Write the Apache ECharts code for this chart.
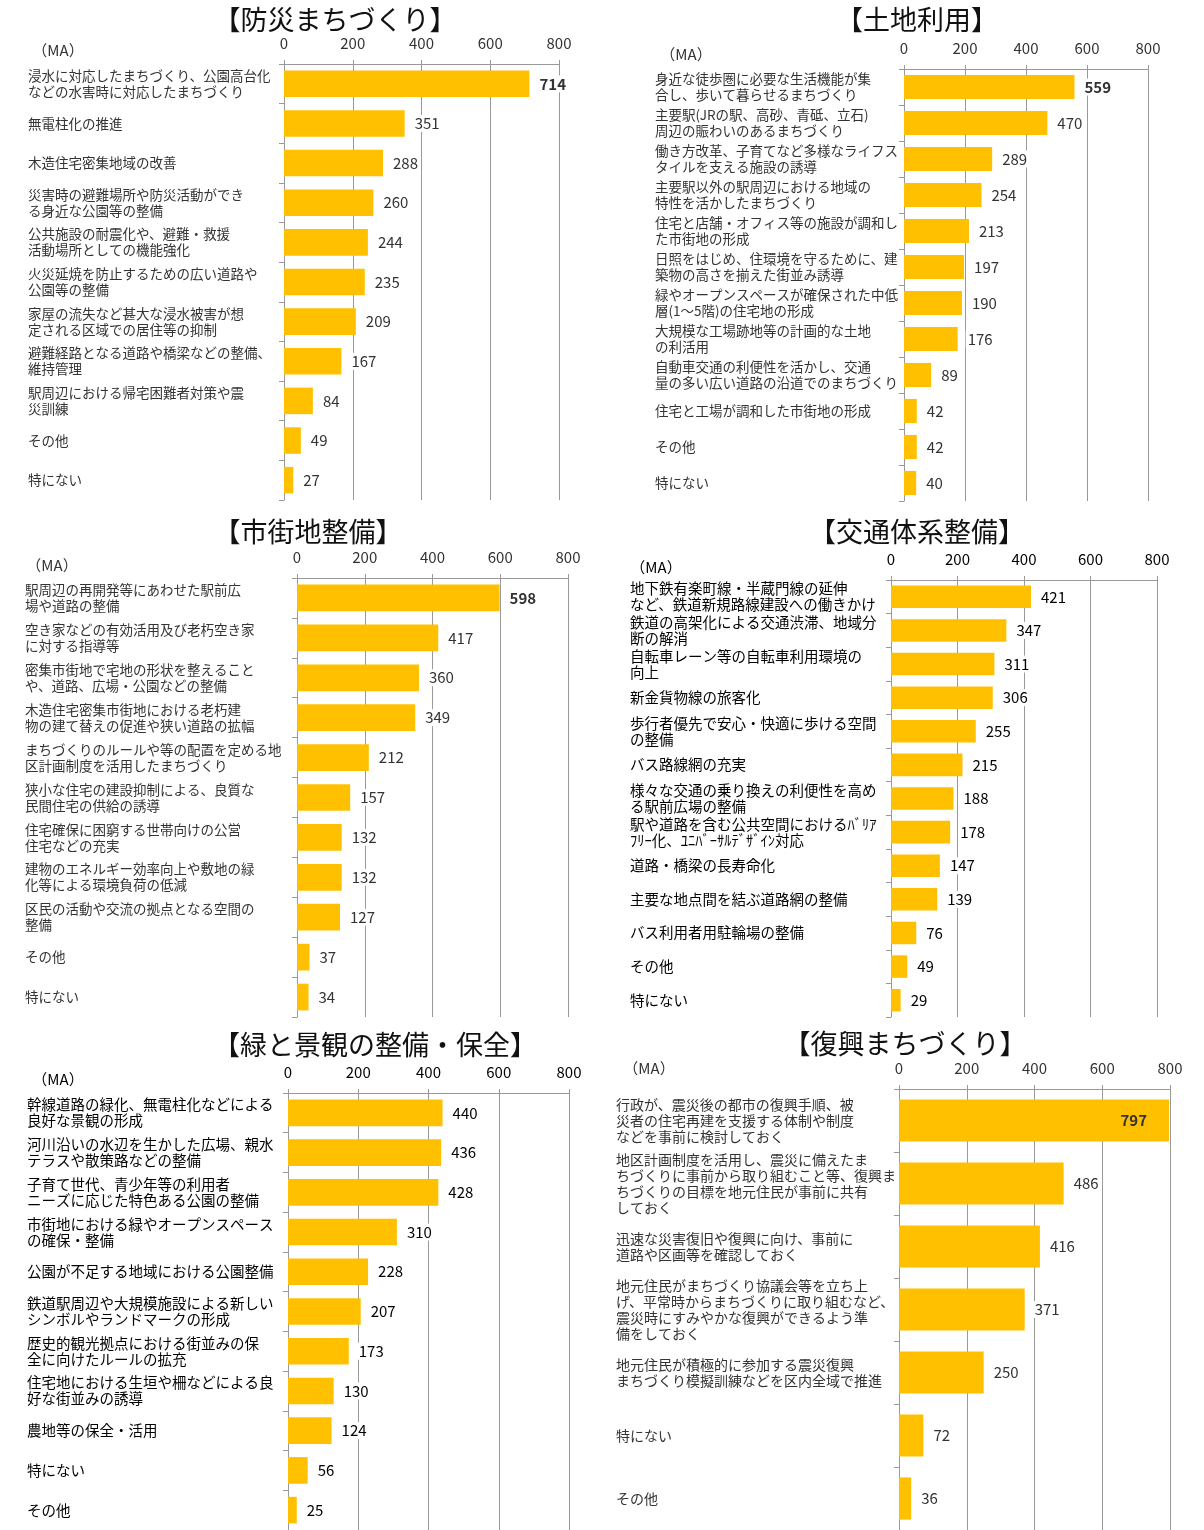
<!DOCTYPE html>
<html>
<head>
<meta charset="utf-8">
<script src="https://cdn.jsdelivr.net/npm/echarts@6/dist/echarts.min.js"></script>
<style>
  html, body { margin: 0; padding: 0; background: #fff; }
  #chart { width: 1204px; height: 1530px; }
</style>
</head>
<body>
<div id="chart"></div>
<script>
// --- data ---
const bousaiLabels = [
  '浸水に対応したまちづくり、公園高台化\nなどの水害時に対応したまちづくり',
  '無電柱化の推進',
  '木造住宅密集地域の改善',
  '災害時の避難場所や防災活動ができ\nる身近な公園等の整備',
  '公共施設の耐震化や、避難・救援\n活動場所としての機能強化',
  '火災延焼を防止するための広い道路や\n公園等の整備',
  '家屋の流失など甚大な浸水被害が想\n定される区域での居住等の抑制',
  '避難経路となる道路や橋梁などの整備、\n維持管理',
  '駅周辺における帰宅困難者対策や震\n災訓練',
  'その他',
  '特にない'
];
const bousaiValues = [714, 351, 288, 260, 244, 235, 209, 167, 84, 49, 27];

const tochiLabels = [
  '身近な徒歩圏に必要な生活機能が集\n合し、歩いて暮らせるまちづくり',
  '主要駅(JRの駅、高砂、青砥、立石)\n周辺の賑わいのあるまちづくり',
  '働き方改革、子育てなど多様なライフス\nタイルを支える施設の誘導',
  '主要駅以外の駅周辺における地域の\n特性を活かしたまちづくり',
  '住宅と店舗・オフィス等の施設が調和し\nた市街地の形成',
  '日照をはじめ、住環境を守るために、建\n築物の高さを揃えた街並み誘導',
  '緑やオープンスペースが確保された中低\n層(1～5階)の住宅地の形成',
  '大規模な工場跡地等の計画的な土地\nの利活用',
  '自動車交通の利便性を活かし、交通\n量の多い広い道路の沿道でのまちづくり',
  '住宅と工場が調和した市街地の形成',
  'その他',
  '特にない'
];
const tochiValues = [559, 470, 289, 254, 213, 197, 190, 176, 89, 42, 42, 40];

const shigaichiLabels = [
  '駅周辺の再開発等にあわせた駅前広\n場や道路の整備',
  '空き家などの有効活用及び老朽空き家\nに対する指導等',
  '密集市街地で宅地の形状を整えること\nや、道路、広場・公園などの整備',
  '木造住宅密集市街地における老朽建\n物の建て替えの促進や狭い道路の拡幅',
  'まちづくりのルールや等の配置を定める地\n区計画制度を活用したまちづくり',
  '狭小な住宅の建設抑制による、良質な\n民間住宅の供給の誘導',
  '住宅確保に困窮する世帯向けの公営\n住宅などの充実',
  '建物のエネルギー効率向上や敷地の緑\n化等による環境負荷の低減',
  '区民の活動や交流の拠点となる空間の\n整備',
  'その他',
  '特にない'
];
const shigaichiValues = [598, 417, 360, 349, 212, 157, 132, 132, 127, 37, 34];

const koutsuLabels = [
  '地下鉄有楽町線・半蔵門線の延伸\nなど、鉄道新規路線建設への働きかけ',
  '鉄道の高架化による交通渋滞、地域分\n断の解消',
  '自転車レーン等の自転車利用環境の\n向上',
  '新金貨物線の旅客化',
  '歩行者優先で安心・快適に歩ける空間\nの整備',
  'バス路線網の充実',
  '様々な交通の乗り換えの利便性を高め\nる駅前広場の整備',
  '駅や道路を含む公共空間におけるﾊﾞﾘｱ\nﾌﾘｰ化、ﾕﾆﾊﾞｰｻﾙﾃﾞｻﾞｲﾝ対応',
  '道路・橋梁の長寿命化',
  '主要な地点間を結ぶ道路網の整備',
  'バス利用者用駐輪場の整備',
  'その他',
  '特にない'
];
const koutsuValues = [421, 347, 311, 306, 255, 215, 188, 178, 147, 139, 76, 49, 29];

const midoriLabels = [
  '幹線道路の緑化、無電柱化などによる\n良好な景観の形成',
  '河川沿いの水辺を生かした広場、親水\nテラスや散策路などの整備',
  '子育て世代、青少年等の利用者\nニーズに応じた特色ある公園の整備',
  '市街地における緑やオープンスペース\nの確保・整備',
  '公園が不足する地域における公園整備',
  '鉄道駅周辺や大規模施設による新しい\nシンボルやランドマークの形成',
  '歴史的観光拠点における街並みの保\n全に向けたルールの拡充',
  '住宅地における生垣や柵などによる良\n好な街並みの誘導',
  '農地等の保全・活用',
  '特にない',
  'その他'
];
const midoriValues = [440, 436, 428, 310, 228, 207, 173, 130, 124, 56, 25];

const fukkouLabels = [
  '行政が、震災後の都市の復興手順、被\n災者の住宅再建を支援する体制や制度\nなどを事前に検討しておく',
  '地区計画制度を活用し、震災に備えたま\nちづくりに事前から取り組むこと等、復興ま\nちづくりの目標を地元住民が事前に共有\nしておく',
  '迅速な災害復旧や復興に向け、事前に\n道路や区画等を確認しておく',
  '地元住民がまちづくり協議会等を立ち上\nげ、平常時からまちづくりに取り組むなど、\n震災時にすみやかな復興ができるよう準\n備をしておく',
  '地元住民が積極的に参加する震災復興\nまちづくり模擬訓練などを区内全域で推進',
  '特にない',
  'その他'
];
const fukkouValues = [797, 486, 416, 371, 250, 72, 36];

const titles = ['【防災まちづくり】', '【土地利用】', '【市街地整備】', '【交通体系整備】', '【緑と景観の整備・保全】', '【復興まちづくり】'];
const axisMin = 0;
const axisMax = 800;
const axisStep = 200;

// --- layout ---
const FONT = '"Noto Sans CJK JP", "Noto Sans", sans-serif';
const BAR = '#FFC000';
const GRID = '#999';

const panels = [
  { labels: bousaiLabels, values: bousaiValues, left: 284, width: 275, top: 64, height: 436, margin: 256, fs: 13.5, lh: 16, color: '#333', tx: 335, ty: 20, mx: 58, my: 50, bold: true },
  { labels: tochiLabels, values: tochiValues, left: 904, width: 244, top: 69, height: 432, margin: 249, fs: 13.5, lh: 16, color: '#333', tx: 917, ty: 20, mx: 686, my: 54, bold: true },
  { labels: shigaichiLabels, values: shigaichiValues, left: 297, width: 271, top: 578, height: 439, margin: 272, fs: 13.5, lh: 16, color: '#333', tx: 308, ty: 532, mx: 52, my: 565, bold: true },
  { labels: koutsuLabels, values: koutsuValues, left: 891, width: 266, top: 580, height: 437, margin: 261, fs: 14.5, lh: 16, color: '#000', tx: 917, ty: 532, mx: 656, my: 567 },
  { labels: midoriLabels, values: midoriValues, left: 288, width: 281, top: 1093, height: 447, margin: 261, fs: 14.5, lh: 16, color: '#000', tx: 375, ty: 1045, mx: 58, my: 1079 },
  { labels: fukkouLabels, values: fukkouValues, left: 899, width: 271, top: 1089, height: 444, margin: 283, fs: 14, lh: 16, color: '#333', tx: 905, ty: 1044, mx: 649, my: 1068, bold: true, inside: true }
];

const grid = [], xAxis = [], yAxis = [], series = [], graphic = [];

panels.forEach((p, i) => {
  grid.push({ left: p.left, top: p.top, width: p.width, height: p.height });

  xAxis.push({
    gridIndex: i, type: 'value', position: 'top',
    min: axisMin, max: axisMax, interval: axisStep,
    axisLine: { show: true, lineStyle: { color: GRID } },
    axisTick: { show: true, length: 4, lineStyle: { color: GRID } },
    axisLabel: { fontSize: 15, color: p.color, margin: 13, fontFamily: FONT },
    splitLine: { show: true, lineStyle: { color: GRID, width: 1 } }
  });

  yAxis.push({
    gridIndex: i, type: 'category', inverse: true, data: p.labels,
    axisLine: { show: true, lineStyle: { color: GRID } },
    axisTick: { show: true, length: 5, lineStyle: { color: GRID } },
    axisLabel: {
      interval: 0, align: 'left', margin: p.margin,
      fontSize: p.fs, lineHeight: p.lh, color: p.color, fontFamily: FONT
    }
  });

  const maxVal = Math.max(...p.values);
  series.push({
    type: 'bar', xAxisIndex: i, yAxisIndex: i,
    barCategoryGap: '33%',
    itemStyle: { color: BAR },
    label: {
      show: true, position: 'right', distance: 8,
      fontSize: 15, color: p.color, fontFamily: FONT,
      backgroundColor: '#fff', padding: [1, 2]
    },
    data: p.values.map(v => {
      if (v !== maxVal || !p.bold) return v;
      const lbl = { fontWeight: 'bold' };
      if (p.inside) Object.assign(lbl, { position: 'insideRight', distance: 20, backgroundColor: 'transparent' });
      return { value: v, label: lbl };
    })
  });

  graphic.push({
    type: 'text', x: p.tx, y: p.ty,
    style: { text: titles[i], fontSize: 27, fontFamily: FONT, fill: '#111', align: 'center', verticalAlign: 'middle' }
  });
  graphic.push({
    type: 'text', x: p.mx, y: p.my,
    style: { text: '（MA）', fontSize: 15, fontFamily: FONT, fill: p.color, align: 'center', verticalAlign: 'middle' }
  });
});

const chart = echarts.init(document.getElementById('chart'), null, { renderer: 'canvas' });
chart.setOption({
  animation: false,
  backgroundColor: '#fff',
  grid, xAxis, yAxis, series, graphic
});
</script>
</body>
</html>
